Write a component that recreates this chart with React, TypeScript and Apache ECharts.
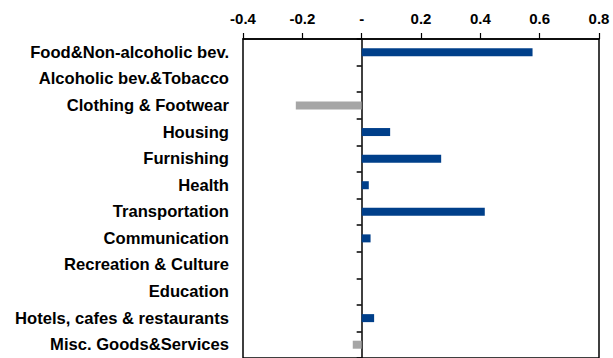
import React, { useEffect, useRef } from "react";
import * as echarts from "echarts";

const categories = [
  "Food&Non-alcoholic bev.",
  "Alcoholic bev.&Tobacco",
  "Clothing & Footwear",
  "Housing",
  "Furnishing",
  "Health",
  "Transportation",
  "Communication",
  "Recreation & Culture",
  "Education",
  "Hotels, cafes & restaurants",
  "Misc. Goods&Services",
];
const values = [0.576, 0, -0.222, 0.096, 0.268, 0.024, 0.415, 0.03, 0, 0, 0.042, -0.03];
const xTicks = [-0.4, -0.2, 0, 0.2, 0.4, 0.6, 0.8];

const POS = "#003F8A";
const NEG = "#A6A6A6";

export default function App() {
  const ref = useRef<HTMLDivElement>(null);
  useEffect(() => {
    const chart = echarts.init(ref.current!, null, { renderer: "svg" });
    const font = "'Liberation Sans', Arial, sans-serif";
    chart.setOption({
      animation: false,
      grid: { left: 243, right: 14, top: 39, height: 322, show: true, borderColor: "#000", borderWidth: 1.5 },
      xAxis: {
        type: "value",
        position: "top",
        min: -0.4,
        max: 0.8,
        interval: 0.2,
        splitLine: { show: false },
        axisLine: { show: true, lineStyle: { color: "#000", width: 1.5 } },
        axisTick: { show: true, length: 6, lineStyle: { color: "#000", width: 1.2 } },
        axisLabel: {
          margin: 13,
          color: "#000",
          fontWeight: "bold",
          fontSize: 15,
          fontFamily: font,
          formatter: (v: number) => {
            const t = xTicks.find((x) => Math.abs(x - v) < 1e-9);
            if (t === undefined) return "";
            return Math.abs(t) < 1e-9 ? "-" : t.toFixed(1);
          },
        },
      },
      yAxis: [
        {
          type: "category",
          data: categories,
          inverse: true,
          position: "left",
          axisLine: { show: false, onZero: false },
          axisTick: { show: false },
          axisLabel: { margin: 14, color: "#000", fontWeight: "bold", fontSize: 16.6, fontFamily: font },
        },
        {
          type: "category",
          data: categories,
          inverse: true,
          position: "left",
          axisLine: { show: true, onZero: true, lineStyle: { color: "#000", width: 1.5 } },
          axisTick: { show: true, length: 5, lineStyle: { color: "#000", width: 1.5 } },
          axisLabel: { show: false },
        },
      ],
      series: [
        {
          type: "bar",
          yAxisIndex: 0,
          barWidth: 8,
          data: values.map((v) => ({ value: v, itemStyle: { color: v < 0 ? NEG : POS } })),
        },
      ],
    });
    return () => chart.dispose();
  }, []);
  return <div ref={ref} style={{ width: 613, height: 358, position: "absolute", left: 0, top: 0, background: "#fff" }} />;
}
